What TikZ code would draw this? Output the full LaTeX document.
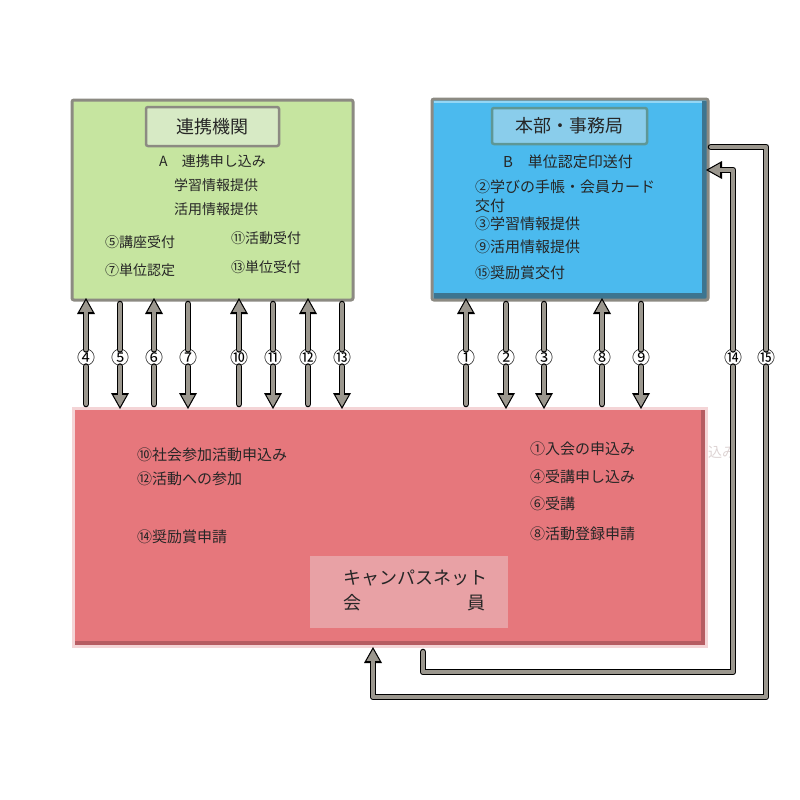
\documentclass[tikz,border=0pt]{standalone}
\usepackage{fontspec}
\setmainfont{Noto Sans CJK JP}
\usetikzlibrary{arrows.meta,calc}
\definecolor{greenfill}{HTML}{C6E5A0}
\definecolor{greentitle}{HTML}{D7EAC5}
\definecolor{boxborder}{HTML}{8C8A82}
\definecolor{bluefill}{HTML}{4BBAEE}
\definecolor{bluetitle}{HTML}{8ACDEB}
\definecolor{bluetitleborder}{HTML}{5E9796}
\definecolor{bluedark}{HTML}{3D7590}
\definecolor{redfill}{HTML}{E6777C}
\definecolor{reddark}{HTML}{B65C62}
\definecolor{redrim}{HTML}{F4D4D6}
\definecolor{innerfill}{HTML}{E8A1A5}
\definecolor{arrowgray}{HTML}{9B978E}
\definecolor{ghost}{HTML}{DDD3D3}
\newcommand\fatline[1]{\draw[fato] #1; \draw[fati] #1;}
\newcommand\fatarrow[1]{\draw[fato,tipo] #1; \draw[fati,tipi] #1;}
\begin{document}
\begin{tikzpicture}[x=1pt,y=-1pt,
  boxshape/.style={rectangle, inner sep=0pt, outer sep=0pt},
  fato/.style={draw=black, line width=6.6pt, line cap=round, line join=round},
  fati/.style={draw=arrowgray, line width=4pt, line cap=round, line join=round},
  tipo/.style={-{Triangle[width=18pt,length=16pt,line width=0pt]}},
  tipi/.style={shorten >=2.4pt, -{Triangle[width=13pt,length=11.5pt,line width=0pt]}},
  lbl/.style={circle, inner sep=0pt, minimum size=13pt, font=\fontsize{18pt}{18pt}\selectfont},
  gtx/.style={font=\fontsize{14pt}{16pt}\selectfont, inner sep=0pt, text=black!85},
  btx/.style={font=\fontsize{15pt}{17pt}\selectfont, inner sep=0pt, text=black!85},
  rtx/.style={font=\fontsize{15pt}{17pt}\selectfont, inner sep=0pt, text=black!85},
  ttl/.style={font=\fontsize{18pt}{20pt}\selectfont, inner sep=0pt, text=black!85},
]
\useasboundingbox (0,0) rectangle (800,800);

% ---------- green box ----------
\node[boxshape, fill=greenfill, draw=boxborder, line width=3pt, rounded corners=2pt,
      minimum width=281pt, minimum height=200pt] (g) at (212.5,200) {};
\node[boxshape, fill=greentitle, draw=boxborder, line width=2.5pt, rounded corners=2pt,
      minimum width=133pt, minimum height=39pt] (gt) at (212.5,126.5) {};
\node[ttl] (gtt) at (212.5,126.5) {連携機関};
\node[gtx] (ga) at (212.5,161) {A　連携申し込み};
\node[gtx] (gb) at (216,185) {学習情報提供};
\node[gtx] (gc) at (216,209) {活用情報提供};
\node[gtx, anchor=west] (g5) at (105,242) {⑤講座受付};
\node[gtx, anchor=west] (g7) at (105,270) {⑦単位認定};
\node[gtx, anchor=west] (g11) at (231,238) {⑪活動受付};
\node[gtx, anchor=west] (g13) at (231,267) {⑬単位受付};

% ---------- blue box ----------
\node[boxshape, fill=bluefill, minimum width=276pt, minimum height=201pt] (b) at (570,199.5) {};
\fill[bluedark] ($(b.south west)+(1.5,-1.5)$) rectangle ($(b.south east)+(-1.5,-7)$);
\fill[bluedark] ($(b.north east)+(-1.5,1.5)$) rectangle ($(b.south east)+(-6,-1.5)$);
\fill[bluefill!60!white] ($(b.north west)+(1.5,1.5)$) rectangle ($(b.north east)+(-6,3.5)$);
\draw[boxborder, line width=3pt, rounded corners=2pt] (b.south west) rectangle (b.north east);
\node[boxshape, fill=bluetitle, draw=bluetitleborder, line width=2.5pt, rounded corners=2pt,
      minimum width=155pt, minimum height=36pt] (bt) at (569.5,126) {};
\node[ttl] (btt) at (569.5,126) {本部・事務局};
\node[btx] (ba) at (568,162) {B　単位認定印送付};
\node[btx, anchor=west] (b2) at (475,187) {②学びの手帳・会員カード};
\node[btx, anchor=west] (b2b) at (475,206) {交付};
\node[btx, anchor=west] (b3) at (475,224) {③学習情報提供};
\node[btx, anchor=west] (b9) at (475,247) {⑨活用情報提供};
\node[btx, anchor=west] (b15) at (475,273) {⑮奨励賞交付};

% ---------- red box ----------
\node[font=\fontsize{14pt}{16pt}\selectfont, text=ghost, inner sep=0pt, anchor=west] (gh) at (708,452) {込み};
\node[boxshape, fill=redrim, minimum width=636pt, minimum height=241pt] (r) at (390,527.5) {};
\fill[redfill] ($(r.north west)+(3,3)$) rectangle ($(r.south east)+(-3,-3)$);
\fill[reddark] ($(r.south west)+(3,-3)$) rectangle ($(r.south east)+(-3,-7)$);
\fill[reddark] ($(r.north east)+(-3,3)$) rectangle ($(r.south east)+(-7,-3)$);
\node[boxshape, fill=innerfill, minimum width=198pt, minimum height=72pt] (cn) at (409,592) {};
\node[ttl, anchor=west] (cn1) at (343,578) {キャンパスネット};
\node[ttl, anchor=west] (cn2) at (343,603) {会};
\node[ttl, anchor=east] (cn3) at (486,603) {員};
\node[rtx, anchor=west] (r10) at (137,455) {⑩社会参加活動申込み};
\node[rtx, anchor=west] (r12) at (137,479) {⑫活動への参加};
\node[rtx, anchor=west] (r14) at (137,537) {⑭奨励賞申請};
\node[rtx, anchor=west] (r1) at (530,449) {①入会の申込み};
\node[rtx, anchor=west] (r4) at (530,477) {④受講申し込み};
\node[rtx, anchor=west] (r6) at (530,504) {⑥受講};
\node[rtx, anchor=west] (r8) at (530,534) {⑧活動登録申請};

% ---------- labels ----------
\node[lbl] (l4) at (86,358) {\makebox[0pt]{④}};
\node[lbl] (l5) at (120,358) {\makebox[0pt]{⑤}};
\node[lbl] (l6) at (154,358) {\makebox[0pt]{⑥}};
\node[lbl] (l7) at (188,358) {\makebox[0pt]{⑦}};
\node[lbl] (l10) at (239,358) {\makebox[0pt]{⑩}};
\node[lbl] (l11) at (273,358) {\makebox[0pt]{⑪}};
\node[lbl] (l12) at (308,358) {\makebox[0pt]{⑫}};
\node[lbl] (l13) at (342,358) {\makebox[0pt]{⑬}};
\node[lbl] (l1) at (466,358) {\makebox[0pt]{①}};
\node[lbl] (l2) at (506,358) {\makebox[0pt]{②}};
\node[lbl] (l3) at (544,358) {\makebox[0pt]{③}};
\node[lbl] (l8) at (602,358) {\makebox[0pt]{⑧}};
\node[lbl] (l9) at (641,358) {\makebox[0pt]{⑨}};
\node[lbl] (l14) at (733,358) {\makebox[0pt]{⑭}};
\node[lbl] (l15) at (766,358) {\makebox[0pt]{⑮}};

% ---------- up arrows (red -> green/blue) ----------
\foreach \n/\t in {4/g,6/g,10/g,12/g,1/b,8/b}{
  \fatline{($(l\n|-r.north)+(0,-3)$) -- (l\n.south)}
  \fatarrow{(l\n.north) -- ($(l\n|-\t.south)+(0,-2)$)}
}
% ---------- down arrows (green/blue -> red) ----------
\foreach \n/\t in {5/g,7/g,11/g,13/g,2/b,3/b,9/b}{
  \fatline{($(l\n|-\t.south)+(0,4)$) -- (l\n.north)}
  \fatarrow{(l\n.south) -- ($(l\n|-r.north)+(0,2)$)}
}

% ---------- 14: red -> blue ----------
\coordinate (k14a) at (423,652);
\coordinate (k14b) at (733,672);
\coordinate (k14c) at (706,170);
\fatline{(k14a) -- (k14a |- k14b) -- (k14b) -- (l14.south)}
\fatarrow{(l14.north) -- (l14 |- k14c) -- (k14c)}

% ---------- 15: blue -> red ----------
\coordinate (k15a) at (711,147);
\coordinate (k15b) at (766,697);
\coordinate (k15c) at (373,647);
\fatline{(k15a) -- (k15a -| l15) -- (l15.north)}
\fatarrow{(l15.south) -- (l15 |- k15b) -- (k15c |- k15b) -- (k15c)}
\end{tikzpicture}
\end{document}
